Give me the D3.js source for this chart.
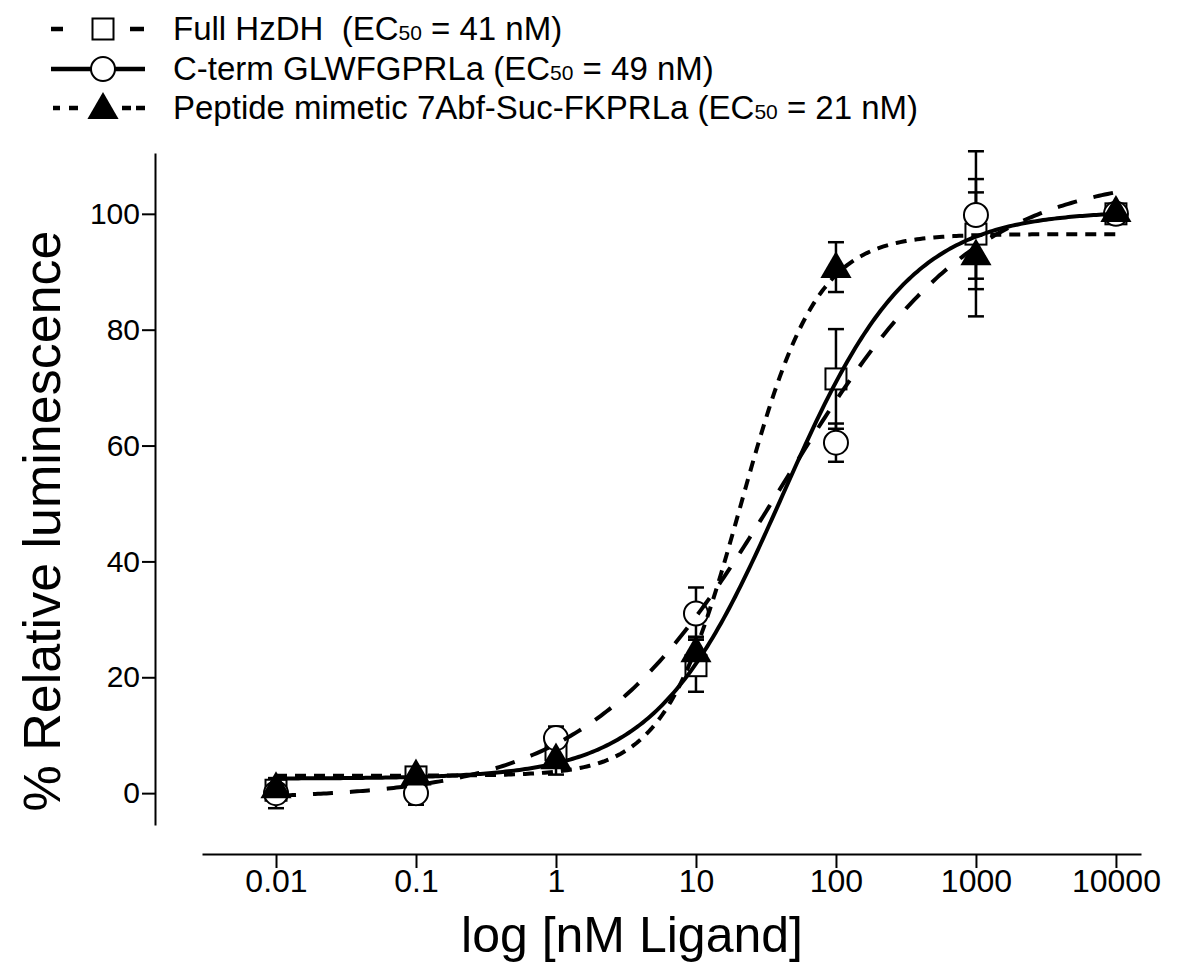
<!DOCTYPE html>
<html>
<head>
<meta charset="utf-8">
<script src="https://cdn.jsdelivr.net/npm/d3@7"></script>
<style>
  body { margin: 0; background: #fff; }
  text { font-family: "Liberation Sans", Arial, sans-serif; fill: #000; }
</style>
</head>
<body>
<div id="chart"></div>
<script>
// ligand concentrations (nM)
const doses = [0.01, 0.1, 1, 10, 100, 1000, 10000]
const xTickLabels = ['0.01', '0.1', '1', '10', '100', '1000', '10000']
const yTicks = [0, 20, 40, 60, 80, 100]

// % relative luminescence, mean and error
const fullHzDH = [0.5, 2.8, 7.5, 22, 71.5, 96.5, 100]
const fullHzDHErr = [1.5, 1.2, 3, 4.5, 8.6, 9.5, 0.8]
const cterm = [0, 0, 9.5, 31, 60.5, 99.8, 100]
const ctermErr = [2.6, 2, 2, 4.5, 3.3, 11, 0.8]
const mimetic = [1, 3.2, 6, 24.5, 90.8, 93, 100.5]
const mimeticErr = [1.5, 1.2, 2.8, 2.5, 4.3, 10.7, 1.2]

// 4-parameter logistic fits: bottom, top, log EC50, hill slope
const fitBottom = [-1, 2.5, 3]
const fitTop = [107, 100.5, 96.5]
const fitLogEC50 = [1.613, 1.62, 1.32]
const fitHill = [0.63, 0.96, 1.6]

const seriesNames = ['Full HzDH\u00a0\u00a0(EC', 'C-term GLWFGPRLa (EC', 'Peptide mimetic 7Abf-Suc-FKPRLa (EC']
const seriesEC50 = [' = 41 nM)', ' = 49 nM)', ' = 21 nM)']

var width = 1177,
    height = 973;

var x = d3.scaleLog()
.domain([0.00296, 15100])
.range([202, 1141])

var y = d3.scaleLinear()
.domain([-5.5, 110.5])
.range([825, 153])

var svg = d3.select('#chart')
.append('svg')
.attr('width', width)
.attr('height', height)

const series = [
  {vals: fullHzDH, err: fullHzDHErr, marker: 'square', dash: '20,17', legendDash: '12,67,14'},
  {vals: cterm, err: ctermErr, marker: 'circle', dash: null, legendDash: null},
  {vals: mimetic, err: mimeticErr, marker: 'triangle', dash: '11,8', legendDash: '7,9,9,44,9,5,9'}
]

// axes
const xAxis = svg.append('g')
.attr('transform', 'translate(0,854)')
.call(d3.axisBottom(x).tickValues(doses).tickFormat((d, i) => xTickLabels[i]).tickSize(14).tickSizeOuter(0))

xAxis.select('.domain').attr('stroke-width', 2)
xAxis.selectAll('.tick line').attr('stroke-width', 2)
xAxis.selectAll('.tick text')
.attr('y', 38)
.attr('dy', 0)
.style('font-size', '32px')
.style('font-family', '"Liberation Sans", Arial, sans-serif')

const yAxis = svg.append('g')
.attr('transform', 'translate(155,0)')
.call(d3.axisLeft(y).tickValues(yTicks).tickSize(13).tickSizeOuter(0))

yAxis.select('.domain').attr('stroke-width', 2)
yAxis.selectAll('.tick line').attr('stroke-width', 2)
yAxis.selectAll('.tick text')
.attr('x', -15)
.style('font-size', '30px')
.style('font-family', '"Liberation Sans", Arial, sans-serif')

svg.append('text')
.attr('x', 632)
.attr('y', 952)
.attr('text-anchor', 'middle')
.style('font-size', '50px')
.text('log [nM Ligand]')

svg.append('text')
.attr('transform', 'translate(60,521) rotate(-90)')
.attr('text-anchor', 'middle')
.style('font-size', '52px')
.text('% Relative luminescence')

// markers
const drawMarker = (g, type, cx, cy) => {
  if (type === 'square') {
    g.append('rect')
    .attr('x', cx - 10.5).attr('y', cy - 10.5)
    .attr('width', 21).attr('height', 21)
    .attr('fill', '#fff').attr('stroke', '#000').attr('stroke-width', 2)
  } else if (type === 'circle') {
    g.append('circle')
    .attr('cx', cx).attr('cy', cy).attr('r', 12)
    .attr('fill', '#fff').attr('stroke', '#000').attr('stroke-width', 2)
  } else {
    g.append('path')
    .attr('d', d3.symbol().type(d3.symbolTriangle).size(420)())
    .attr('transform', `translate(${cx},${cy + 2})`)
    .attr('fill', '#000')
  }
}

const plot = svg.append('g')

// error bars
series.forEach(s => {
  s.vals.forEach((v, i) => {
    const cx = x(doses[i])
    const g = plot.append('g').attr('stroke', '#000').attr('stroke-width', 2.5)
    g.append('line').attr('x1', cx).attr('x2', cx).attr('y1', y(v - s.err[i])).attr('y2', y(v + s.err[i]))
    g.append('line').attr('x1', cx - 8).attr('x2', cx + 8).attr('y1', y(v + s.err[i])).attr('y2', y(v + s.err[i]))
    g.append('line').attr('x1', cx - 8).attr('x2', cx + 8).attr('y1', y(v - s.err[i])).attr('y2', y(v - s.err[i]))
  })
})

series.forEach(s => {
  s.vals.forEach((v, i) => drawMarker(plot, s.marker, x(doses[i]), y(v)))
})

// fitted curves
const logGrid = d3.range(-2, 4.0001, 0.02)
const line = d3.line().x(d => x(Math.pow(10, d[0]))).y(d => y(d[1]))

series.forEach((s, k) => {
  const pts = logGrid.map(lx => [lx, fitBottom[k] + (fitTop[k] - fitBottom[k]) / (1 + Math.pow(10, fitHill[k] * (fitLogEC50[k] - lx)))])
  plot.append('path')
  .attr('d', line(pts))
  .attr('fill', 'none')
  .attr('stroke', '#000')
  .attr('stroke-width', 4)
  .attr('stroke-dasharray', s.dash)
})

// legend
const legend = svg.append('g')
const rowY = [29, 69, 108]

series.forEach((s, k) => {
  const ly = rowY[k]
  legend.append('line')
  .attr('x1', k === 2 ? 53 : 51).attr('x2', 145).attr('y1', ly).attr('y2', ly)
  .attr('stroke', '#000').attr('stroke-width', 4.5)
  .attr('stroke-dasharray', s.legendDash)
  drawMarker(legend, s.marker, 103, ly)

  const t = legend.append('text')
  .attr('x', 173)
  .attr('y', ly + 11)
  .style('font-size', '33px')
  t.append('tspan').text(seriesNames[k])
  t.append('tspan').style('font-size', '21px').text('50')
  t.append('tspan').text(seriesEC50[k])
})
</script>
</body>
</html>
